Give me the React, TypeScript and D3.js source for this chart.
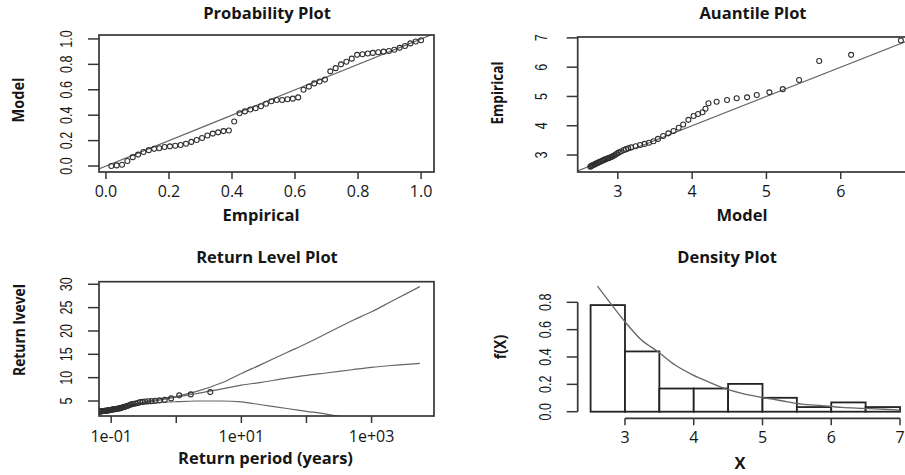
import React from "react";
import * as d3 from "d3";

const W = 905;
const H = 475;

// ---- Probability plot: empirical vs fitted (model) probabilities ----
const probEmpirical = [
  0.017, 0.034, 0.051, 0.068, 0.085, 0.102, 0.119, 0.136, 0.153, 0.169,
  0.186, 0.203, 0.22, 0.237, 0.254, 0.271, 0.288, 0.305, 0.322, 0.339,
  0.356, 0.373, 0.39, 0.407, 0.424, 0.441, 0.458, 0.475, 0.492, 0.508,
  0.525, 0.542, 0.559, 0.576, 0.593, 0.61, 0.627, 0.644, 0.661, 0.678,
  0.695, 0.712, 0.729, 0.746, 0.763, 0.78, 0.797, 0.814, 0.831, 0.847,
  0.864, 0.881, 0.898, 0.915, 0.932, 0.949, 0.966, 0.983, 1.0,
];
const probModel = [
  0.0, 0.005, 0.01, 0.04, 0.07, 0.09, 0.11, 0.125, 0.135, 0.14,
  0.15, 0.155, 0.16, 0.165, 0.175, 0.19, 0.205, 0.22, 0.24, 0.255,
  0.265, 0.275, 0.28, 0.35, 0.415, 0.43, 0.445, 0.455, 0.47, 0.49,
  0.51, 0.52, 0.52, 0.525, 0.53, 0.54, 0.6, 0.625, 0.65, 0.665,
  0.68, 0.745, 0.77, 0.8, 0.82, 0.845, 0.875, 0.88, 0.885, 0.89,
  0.895, 0.9, 0.905, 0.915, 0.93, 0.945, 0.965, 0.98, 0.99,
];

// ---- Sorted sample (exceedances) ----
const sample = [
  2.6, 2.62, 2.63, 2.65, 2.66, 2.68, 2.7, 2.71, 2.73, 2.75, 2.77, 2.78,
  2.8, 2.82, 2.84, 2.85, 2.87, 2.89, 2.9, 2.92, 2.94, 2.96, 2.98,
  3.02, 3.05, 3.08, 3.12, 3.17, 3.2, 3.23, 3.26, 3.3, 3.34, 3.38, 3.42, 3.47,
  3.55, 3.65, 3.74, 3.82, 3.93,
  4.04, 4.2, 4.33, 4.4, 4.46,
  4.58, 4.77, 4.82, 4.88, 4.94, 4.97,
  5.05, 5.14, 5.25,
  5.56,
  6.21, 6.42,
  6.91,
];
// Fitted-model quantiles paired with the sorted sample
const modelQuantiles = [
  2.63, 2.64, 2.65, 2.66, 2.67, 2.69, 2.7, 2.71, 2.73, 2.74, 2.76, 2.77,
  2.79, 2.8, 2.82, 2.83, 2.85, 2.87, 2.88, 2.9, 2.92, 2.93, 2.95,
  2.97, 2.99, 3.01, 3.04, 3.08, 3.11, 3.14, 3.18, 3.24, 3.3, 3.36, 3.42, 3.48,
  3.54, 3.61, 3.68, 3.75, 3.82,
  3.88, 3.95, 4.02, 4.08, 4.14,
  4.18, 4.22, 4.33, 4.47, 4.6, 4.74,
  4.87, 5.04, 5.22,
  5.44,
  5.71, 6.14,
  6.81,
];
// Empirical return periods (years) of the sorted sample
const returnPeriods = [
  0.0564, 0.0574, 0.0584, 0.0595, 0.0605, 0.0617, 0.0628, 0.064, 0.0653, 0.0666,
  0.068, 0.0694, 0.0709, 0.0724, 0.074, 0.0757, 0.0774, 0.0793, 0.0812, 0.0833,
  0.0854, 0.0876, 0.09, 0.0925, 0.0951, 0.0979, 0.101, 0.104, 0.107, 0.111,
  0.115, 0.119, 0.123, 0.128, 0.133, 0.139, 0.145, 0.151, 0.159, 0.167,
  0.175, 0.185, 0.196, 0.208, 0.222, 0.238, 0.256, 0.278, 0.303, 0.333,
  0.37, 0.416, 0.476, 0.555, 0.666, 0.833, 1.11, 1.67, 3.33,
];

// ---- Return level curve with confidence bounds ----
const rlPeriods = [0.0565, 0.1, 0.2, 0.5, 1, 2, 5, 10, 20, 50, 100, 200, 500, 1000, 2000, 5520];
const rlEstimate = [2.62, 3.25, 4.05, 5.1, 5.85, 6.55, 7.6, 8.4, 9.0, 9.9, 10.5, 11.0, 11.7, 12.2, 12.6, 13.07];
const rlUpper = [2.62, 3.3, 4.15, 5.3, 6.0, 7.0, 8.9, 10.9, 12.8, 15.4, 17.3, 19.4, 22.2, 24.1, 26.3, 29.5];
const rlLower = [2.62, 3.2, 3.95, 4.6, 4.85, 5.0, 5.0, 4.8, 4.2, 3.4, 2.8, 2.2, 1.2, 0.5, -0.4, -2.6];

// ---- Fitted density curve ----
const densityX = [2.6, 2.81, 3.0, 3.24, 3.48, 3.73, 3.97, 4.21, 4.45, 4.7, 4.99, 5.28, 5.57, 5.86, 6.15, 6.44, 6.78, 7.0];
const densityY = [0.919, 0.78, 0.658, 0.524, 0.439, 0.341, 0.273, 0.219, 0.171, 0.134, 0.105, 0.08, 0.056, 0.044, 0.032, 0.025, 0.018, 0.012];
const histBreaks = [2.5, 3, 3.5, 4, 4.5, 5, 5.5, 6, 6.5, 7];

// ---- Tick values and labels ----
const probTicks = [0, 0.2, 0.4, 0.6, 0.8, 1.0];
const probTickLabels = ["0.0", "0.2", "0.4", "0.6", "0.8", "1.0"];
const qqXTicks = [3, 4, 5, 6];
const qqYTicks = [3, 4, 5, 6, 7];
const rlXTicks = [0.1, 1, 10, 100, 1000];
const rlXTickLabels = ["1e-01", "", "1e+01", "", "1e+03"];
const rlYTicks = [5, 10, 15, 20, 25, 30];
const densXTicks = [3, 4, 5, 6, 7];
const densYTicks = [0, 0.2, 0.4, 0.6, 0.8];
const densYTickLabels = ["0.0", "0.2", "0.4", "0.6", "0.8"];

const SANS = "'Open Sans', 'Noto Sans', sans-serif";
const NARROW = "'Liberation Sans', Arial, sans-serif";
const INK = "#161616";
const FRAME = "#363636";
const CURVE = "#666666";
const POINT = "#303030";

const TITLE_SIZE = 16.5;
const TICK_SIZE = 16;

type Lin = d3.ScaleLinear<number, number> | d3.ScaleLogarithmic<number, number>;

function Title({ x, y, text }: { x: number; y: number; text: string }) {
  return (
    <text x={x} y={y} textAnchor="middle" fontFamily={SANS} fontWeight={700} fontSize={TITLE_SIZE} fill={INK}>
      {text}
    </text>
  );
}

function VLabel({ x, y, text, squeeze = 0.85 }: { x: number; y: number; text: string; squeeze?: number }) {
  return (
    <text
      transform={`translate(${x},${y}) rotate(-90) scale(${squeeze},1)`}
      textAnchor="middle"
      fontFamily={SANS}
      fontWeight={700}
      fontSize={TITLE_SIZE}
      fill={INK}
    >
      {text}
    </text>
  );
}

function LeftAxis({
  scale, ticks, labels, x, labelX, from, to,
}: {
  scale: Lin; ticks: number[]; labels: string[]; x: number; labelX: number; from?: number; to?: number;
}) {
  return (
    <g>
      {from !== undefined && to !== undefined && (
        <line x1={x} x2={x} y1={scale(from)} y2={scale(to)} stroke={FRAME} strokeWidth={1.7} />
      )}
      {ticks.map((t, i) => (
        <g key={i}>
          <line x1={x - 11} x2={x} y1={scale(t)} y2={scale(t)} stroke={FRAME} strokeWidth={1.5} />
          <text
            transform={`translate(${labelX},${scale(t)}) rotate(-90) scale(0.76,1)`}
            textAnchor="middle"
            fontFamily={NARROW}
            fontSize={16.5}
            fill={INK}
          >
            {labels[i]}
          </text>
        </g>
      ))}
    </g>
  );
}

function BottomAxis({
  scale, ticks, labels, y, labelY, from, to,
}: {
  scale: Lin; ticks: number[]; labels: string[]; y: number; labelY: number; from?: number; to?: number;
}) {
  return (
    <g>
      {from !== undefined && to !== undefined && (
        <line x1={scale(from)} x2={scale(to)} y1={y} y2={y} stroke={FRAME} strokeWidth={1.7} />
      )}
      {ticks.map((t, i) => (
        <g key={i}>
          <line x1={scale(t)} x2={scale(t)} y1={y} y2={y + 7} stroke={FRAME} strokeWidth={1.5} />
          {labels[i] && (
            <text x={scale(t)} y={labelY} textAnchor="middle" fontFamily={SANS} fontSize={TICK_SIZE} fill={INK}>
              {labels[i]}
            </text>
          )}
        </g>
      ))}
    </g>
  );
}

function Points({ xs, ys }: { xs: number[]; ys: number[] }) {
  return (
    <g>
      {xs.map((px, i) => (
        <circle key={i} cx={px} cy={ys[i]} r={2.5} fill="none" stroke={POINT} strokeWidth={1.1} />
      ))}
    </g>
  );
}

function ProbabilityPlot() {
  const left = 99, right = 434, top = 35, bottom = 172;
  const x = d3.scaleLinear().domain([-0.022, 1.041]).range([left, right]);
  const y = d3.scaleLinear().domain([-0.047, 1.031]).range([bottom, top]);
  const diag = d3.line<number>().x((d) => x(d)).y((d) => y(d));
  return (
    <g>
      <defs>
        <clipPath id="clip-prob">
          <rect x={left} y={top} width={right - left} height={bottom - top} />
        </clipPath>
      </defs>
      <Title x={267} y={19} text="Probability Plot" />
      <g clipPath="url(#clip-prob)">
        <path d={diag([-0.1, 1.1]) ?? ""} stroke={CURVE} strokeWidth={1.2} fill="none" />
        <Points xs={probEmpirical.map((e) => x(e))} ys={probModel.map((m) => y(m))} />
      </g>
      <rect x={left} y={top} width={right - left} height={bottom - top} fill="none" stroke={FRAME} strokeWidth={1.7} />
      <LeftAxis scale={y} ticks={probTicks} labels={probTickLabels} x={left} labelX={71.5} />
      <BottomAxis scale={x} ticks={probTicks} labels={probTickLabels} y={bottom} labelY={197} />
      <VLabel x={23.5} y={100} text="Model" squeeze={0.88} />
      <text x={261} y={221} textAnchor="middle" fontFamily={SANS} fontWeight={700} fontSize={TITLE_SIZE} fill={INK}>
        Empirical
      </text>
    </g>
  );
}

function QuantilePlot() {
  const left = 577.7, right = 918, top = 37, bottom = 172;
  const x = d3.scaleLinear().domain([2.46, 7.04]).range([left, right]);
  const y = d3.scaleLinear().domain([2.42, 7.03]).range([bottom, top]);
  const diag = d3.line<number>().x((d) => x(d)).y((d) => y(d));
  return (
    <g>
      <defs>
        <clipPath id="clip-qq">
          <rect x={left} y={top} width={right - left} height={bottom - top} />
        </clipPath>
      </defs>
      <Title x={753} y={19} text="Auantile Plot" />
      <g clipPath="url(#clip-qq)">
        <path d={diag([2, 8]) ?? ""} stroke={CURVE} strokeWidth={1.2} fill="none" />
        <Points xs={modelQuantiles.map((m) => x(m))} ys={sample.map((v) => y(v))} />
      </g>
      <rect x={left} y={top} width={right - left} height={bottom - top} fill="none" stroke={FRAME} strokeWidth={1.7} />
      <LeftAxis scale={y} ticks={qqYTicks} labels={qqYTicks.map(String)} x={left} labelX={547} />
      <BottomAxis scale={x} ticks={qqXTicks} labels={qqXTicks.map(String)} y={bottom} labelY={197} />
      <VLabel x={503} y={93} text="Empirical" squeeze={0.82} />
      <text x={742} y={221} textAnchor="middle" fontFamily={SANS} fontWeight={700} fontSize={TITLE_SIZE} fill={INK}>
        Model
      </text>
    </g>
  );
}

function ReturnLevelPlot() {
  const left = 99, right = 434, top = 281.7, bottom = 416;
  const x = d3.scaleLog().domain([0.065, 9100]).range([left, right]);
  const y = d3.scaleLinear().domain([1.79, 30.55]).range([bottom, top]);
  const line = d3
    .line<[number, number]>()
    .x((d) => x(d[0]))
    .y((d) => y(d[1]))
    .curve(d3.curveMonotoneX);
  const seg = (vals: number[]) => line(rlPeriods.map((p, i) => [p, vals[i]] as [number, number])) ?? "";
  return (
    <g>
      <defs>
        <clipPath id="clip-rl">
          <rect x={left} y={top} width={right - left} height={bottom - top} />
        </clipPath>
      </defs>
      <Title x={267} y={262.5} text="Return Level Plot" />
      <g clipPath="url(#clip-rl)">
        <path d={seg(rlUpper)} stroke={CURVE} strokeWidth={1.2} fill="none" />
        <path d={seg(rlEstimate)} stroke={CURVE} strokeWidth={1.2} fill="none" />
        <path d={seg(rlLower)} stroke={CURVE} strokeWidth={1.2} fill="none" />
        <Points xs={returnPeriods.map((p) => x(p))} ys={sample.map((v) => y(v))} />
      </g>
      <rect x={left} y={top} width={right - left} height={bottom - top} fill="none" stroke={FRAME} strokeWidth={1.7} />
      <LeftAxis scale={y} ticks={rlYTicks} labels={rlYTicks.map(String)} x={left} labelX={72} />
      <BottomAxis scale={x} ticks={rlXTicks} labels={rlXTickLabels} y={bottom} labelY={441.5} />
      <VLabel x={24.5} y={330} text="Return lvevel" squeeze={0.84} />
      <text x={265.5} y={463.5} textAnchor="middle" fontFamily={SANS} fontWeight={700} fontSize={TITLE_SIZE} fill={INK}>
        Return period (years)
      </text>
    </g>
  );
}

function DensityPlot() {
  const x = d3.scaleLinear().domain([2.5, 7]).range([590.6, 900]);
  const y = d3.scaleLinear().domain([0, 0.8]).range([411.7, 302.3]);
  const n = sample.length;
  const bins = d3
    .bin()
    .domain([histBreaks[0], histBreaks[histBreaks.length - 1]])
    .thresholds(histBreaks.slice(1, -1))(sample);
  const curve = d3
    .line<number>()
    .x((d) => x(d))
    .y((_, i) => y(densityY[i]))
    .curve(d3.curveMonotoneX);
  return (
    <g>
      <Title x={727} y={262.5} text="Density Plot" />
      {bins.map((b, i) => {
        const x0 = b.x0 as number;
        const x1 = b.x1 as number;
        const dens = b.length / (n * (x1 - x0));
        return (
          <rect
            key={i}
            x={x(x0)}
            y={y(dens)}
            width={x(x1) - x(x0)}
            height={y(0) - y(dens)}
            fill="#fff"
            stroke="#222"
            strokeWidth={1.8}
          />
        );
      })}
      <path d={curve(densityX) ?? ""} stroke={CURVE} strokeWidth={1.3} fill="none" />
      <LeftAxis
        scale={y}
        ticks={densYTicks}
        labels={densYTickLabels}
        x={577.7}
        labelX={550.5}
        from={densYTicks[0]}
        to={densYTicks[densYTicks.length - 1]}
      />
      <BottomAxis
        scale={x}
        ticks={densXTicks}
        labels={densXTicks.map(String)}
        y={418.3}
        labelY={443}
        from={densXTicks[0]}
        to={densXTicks[densXTicks.length - 1]}
      />
      <VLabel x={506} y={347} text="f(X)" squeeze={0.85} />
      <text x={740} y={469} textAnchor="middle" fontFamily={SANS} fontWeight={700} fontSize={TITLE_SIZE} fill={INK}>
        X
      </text>
    </g>
  );
}

export default function App() {
  return (
    <svg
      width={W}
      height={H}
      viewBox={`0 0 ${W} ${H}`}
      style={{ position: "absolute", left: 0, top: 0, background: "#fff" }}
    >
      <rect x={0} y={0} width={W} height={H} fill="#fff" />
      <ProbabilityPlot />
      <QuantilePlot />
      <ReturnLevelPlot />
      <DensityPlot />
    </svg>
  );
}
